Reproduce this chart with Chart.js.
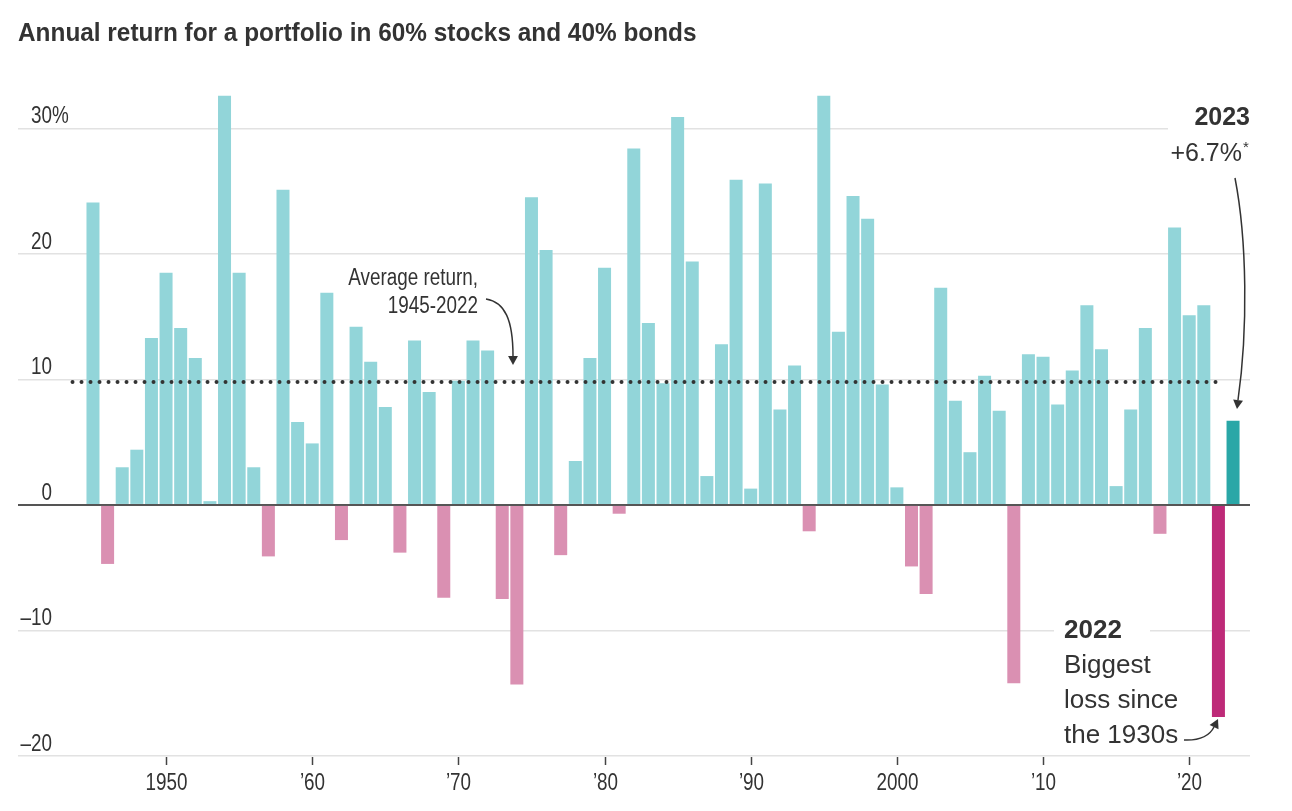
<!DOCTYPE html>
<html>
<head>
<meta charset="utf-8">
<script src="https://cdn.jsdelivr.net/npm/chart.js@4.4.1/dist/chart.umd.min.js"></script>
<style>
  body { margin: 0; background: #fff; }
  #wrap { position: relative; width: 1292px; height: 811px; }
</style>
</head>
<body>
<div id="wrap"><canvas id="returnsChart" width="1292" height="811"></canvas></div>
<script>
// years 1945-2023, annual return of a 60/40 portfolio (%)
const years = [
  1945, 1946, 1947, 1948, 1949, 1950, 1951, 1952, 1953, 1954,
  1955, 1956, 1957, 1958, 1959, 1960, 1961, 1962, 1963, 1964,
  1965, 1966, 1967, 1968, 1969, 1970, 1971, 1972, 1973, 1974,
  1975, 1976, 1977, 1978, 1979, 1980, 1981, 1982, 1983, 1984,
  1985, 1986, 1987, 1988, 1989, 1990, 1991, 1992, 1993, 1994,
  1995, 1996, 1997, 1998, 1999, 2000, 2001, 2002, 2003, 2004,
  2005, 2006, 2007, 2008, 2009, 2010, 2011, 2012, 2013, 2014,
  2015, 2016, 2017, 2018, 2019, 2020, 2021, 2022, 2023
];
const returns = [
  24.1, -4.7, 3.0, 4.4, 13.3, 18.5, 14.1, 11.7, 0.3, 32.6,
  18.5, 3.0, -4.1, 25.1, 6.6, 4.9, 16.9, -2.8, 14.2, 11.4,
  7.8, -3.8, 13.1, 9.0, -7.4, 9.9, 13.1, 12.3, -7.5, -14.3,
  24.5, 20.3, -4.0, 3.5, 11.7, 18.9, -0.7, 28.4, 14.5, 9.7,
  30.9, 19.4, 2.3, 12.8, 25.9, 1.3, 25.6, 7.6, 11.1, -2.1,
  32.6, 13.8, 24.6, 22.8, 9.6, 1.4, -4.9, -7.1, 17.3, 8.3,
  4.2, 10.3, 7.5, -14.2, 12.0, 11.8, 8.0, 10.7, 15.9, 12.4,
  1.5, 7.6, 14.1, -2.3, 22.1, 15.1, 15.9, -16.9, 6.7
];
const averageReturn = 9.8;
const averageSpan = [1943.6, 2022.3];
const yTicks = [-20, -10, 0, 10, 20, 30];
const xTicks = [1950, 1960, 1970, 1980, 1990, 2000, 2010, 2020];
const xTickLabels = ['1950', '\u201960', '\u201970', '\u201980', '\u201990', '2000', '\u201910', '\u201920'];

const upColor = '#92d5d9';
const downColor = '#da90b2';
const latestColor = '#2aa7a7';
const worstColor = '#be2a78';
const ink = '#333333';

const sans = "'Liberation Sans', Arial, sans-serif";

function barColor(ctx) {
  const year = years[ctx.dataIndex];
  const v = returns[ctx.dataIndex];
  if (year === 2023) return latestColor;
  if (year === 2022) return worstColor;
  return v < 0 ? downColor : upColor;
}

// text squeezed horizontally, like a narrow face
function say(ctx, text, x, y, font, align, squeeze) {
  ctx.save();
  ctx.font = font;
  ctx.textAlign = align;
  ctx.textBaseline = 'alphabetic';
  ctx.translate(x, y);
  ctx.scale(squeeze || 1, 1);
  ctx.fillText(text, 0, 0);
  ctx.restore();
}

function arrowHead(ctx, x, y, angle, size) {
  ctx.save();
  ctx.translate(x, y);
  ctx.rotate(angle);
  ctx.beginPath();
  ctx.moveTo(0, 0);
  ctx.lineTo(-size, -size * 0.55);
  ctx.lineTo(-size, size * 0.55);
  ctx.closePath();
  ctx.fill();
  ctx.restore();
}

const decorations = {
  id: 'decorations',
  afterDraw(chart) {
    const ctx = chart.ctx;
    const xs = chart.scales.x;
    const ys = chart.scales.y;
    const area = chart.chartArea;
    const narrow = 0.82;
    ctx.save();

    ctx.fillStyle = ink;
    say(ctx, 'Annual return for a portfolio in 60% stocks and 40% bonds', 18, 41, 'bold 25px ' + sans, 'left', 0.975);

    // gaps in gridlines behind labels
    ctx.fillStyle = '#fff';
    ctx.fillRect(1168, ys.getPixelForValue(30) - 3, area.right - 1168 + 2, 6);
    ctx.fillRect(1054, ys.getPixelForValue(-10) - 3, 96, 6);

    // y labels
    ctx.fillStyle = ink;
    yTicks.forEach(v => {
      const y = ys.getPixelForValue(v) - 5;
      const label = v < 0 ? '\u2013' + Math.abs(v) : String(v);
      say(ctx, label, 52, y, '23px ' + sans, 'right', narrow);
      if (v === 30) say(ctx, '%', 52, y, '23px ' + sans, 'left', narrow);
    });

    // x ticks
    ctx.strokeStyle = '#444';
    ctx.lineWidth = 1.5;
    xTicks.forEach((yr, i) => {
      const x = Math.round(xs.getPixelForValue(yr)) + 0.5;
      ctx.beginPath();
      ctx.moveTo(x, area.bottom + 1);
      ctx.lineTo(x, area.bottom + 9);
      ctx.stroke();
      say(ctx, xTickLabels[i], x, area.bottom + 34, '23px ' + sans, 'center', narrow);
    });

    // average annotation
    say(ctx, 'Average return,', 478, 285, '23px ' + sans, 'right', narrow);
    say(ctx, '1945-2022', 478, 313, '23px ' + sans, 'right', narrow);
    ctx.strokeStyle = ink;
    ctx.fillStyle = ink;
    ctx.lineWidth = 1.5;
    ctx.beginPath();
    ctx.moveTo(486, 299);
    ctx.bezierCurveTo(505, 302, 513, 320, 513, 356);
    ctx.stroke();
    arrowHead(ctx, 513, 365, Math.PI / 2, 9);

    // 2023 annotation
    say(ctx, '2023', 1250, 125, 'bold 25px ' + sans, 'right');
    say(ctx, '+6.7%', 1242, 161, '25px ' + sans, 'right');
    say(ctx, '*', 1243, 152, '15px ' + sans, 'left');
    ctx.beginPath();
    ctx.moveTo(1235, 178);
    ctx.bezierCurveTo(1247, 240, 1248, 330, 1238, 400);
    ctx.stroke();
    arrowHead(ctx, 1237, 409, Math.PI / 2 + 0.12, 9);

    // 2022 annotation
    say(ctx, '2022', 1064, 638, 'bold 26px ' + sans, 'left');
    say(ctx, 'Biggest', 1064, 673, '26px ' + sans, 'left');
    say(ctx, 'loss since', 1064, 708, '26px ' + sans, 'left');
    say(ctx, 'the 1930s', 1064, 743, '26px ' + sans, 'left');
    ctx.beginPath();
    ctx.moveTo(1184, 740);
    ctx.quadraticCurveTo(1207, 741, 1214, 727);
    ctx.stroke();
    arrowHead(ctx, 1218, 719, -Math.PI / 2 + 0.45, 9);

    ctx.restore();
  }
};

new Chart(document.getElementById('returnsChart'), {
  data: {
    datasets: [
      {
        type: 'line',
        data: [{ x: averageSpan[0], y: averageReturn }, { x: averageSpan[1], y: averageReturn }],
        borderColor: ink,
        borderWidth: 4,
        borderDash: [0, 9],
        borderCapStyle: 'round',
        pointRadius: 0,
        order: 0
      },
      {
        type: 'bar',
        data: years.map((yr, i) => ({ x: yr, y: returns[i] })),
        backgroundColor: barColor,
        categoryPercentage: 1,
        barPercentage: 0.89,
        order: 1
      }
    ]
  },
  options: {
    responsive: false,
    animation: false,
    devicePixelRatio: 1,
    layout: { padding: { left: 18, right: 42, top: 53, bottom: 55 } },
    plugins: { legend: { display: false }, tooltip: { enabled: false } },
    scales: {
      x: {
        type: 'linear',
        min: 1939.87,
        max: 2024.16,
        offset: false,
        display: false
      },
      y: {
        min: -20,
        max: 36,
        afterBuildTicks: axis => { axis.ticks = yTicks.map(v => ({ value: v })); },
        ticks: { display: false },
        border: { display: false },
        grid: {
          drawTicks: false,
          color: c => c.tick.value === 0 ? '#555' : '#e2e2e2',
          lineWidth: c => c.tick.value === 0 ? 2 : 1.5
        }
      }
    }
  },
  plugins: [decorations]
});
</script>
</body>
</html>
